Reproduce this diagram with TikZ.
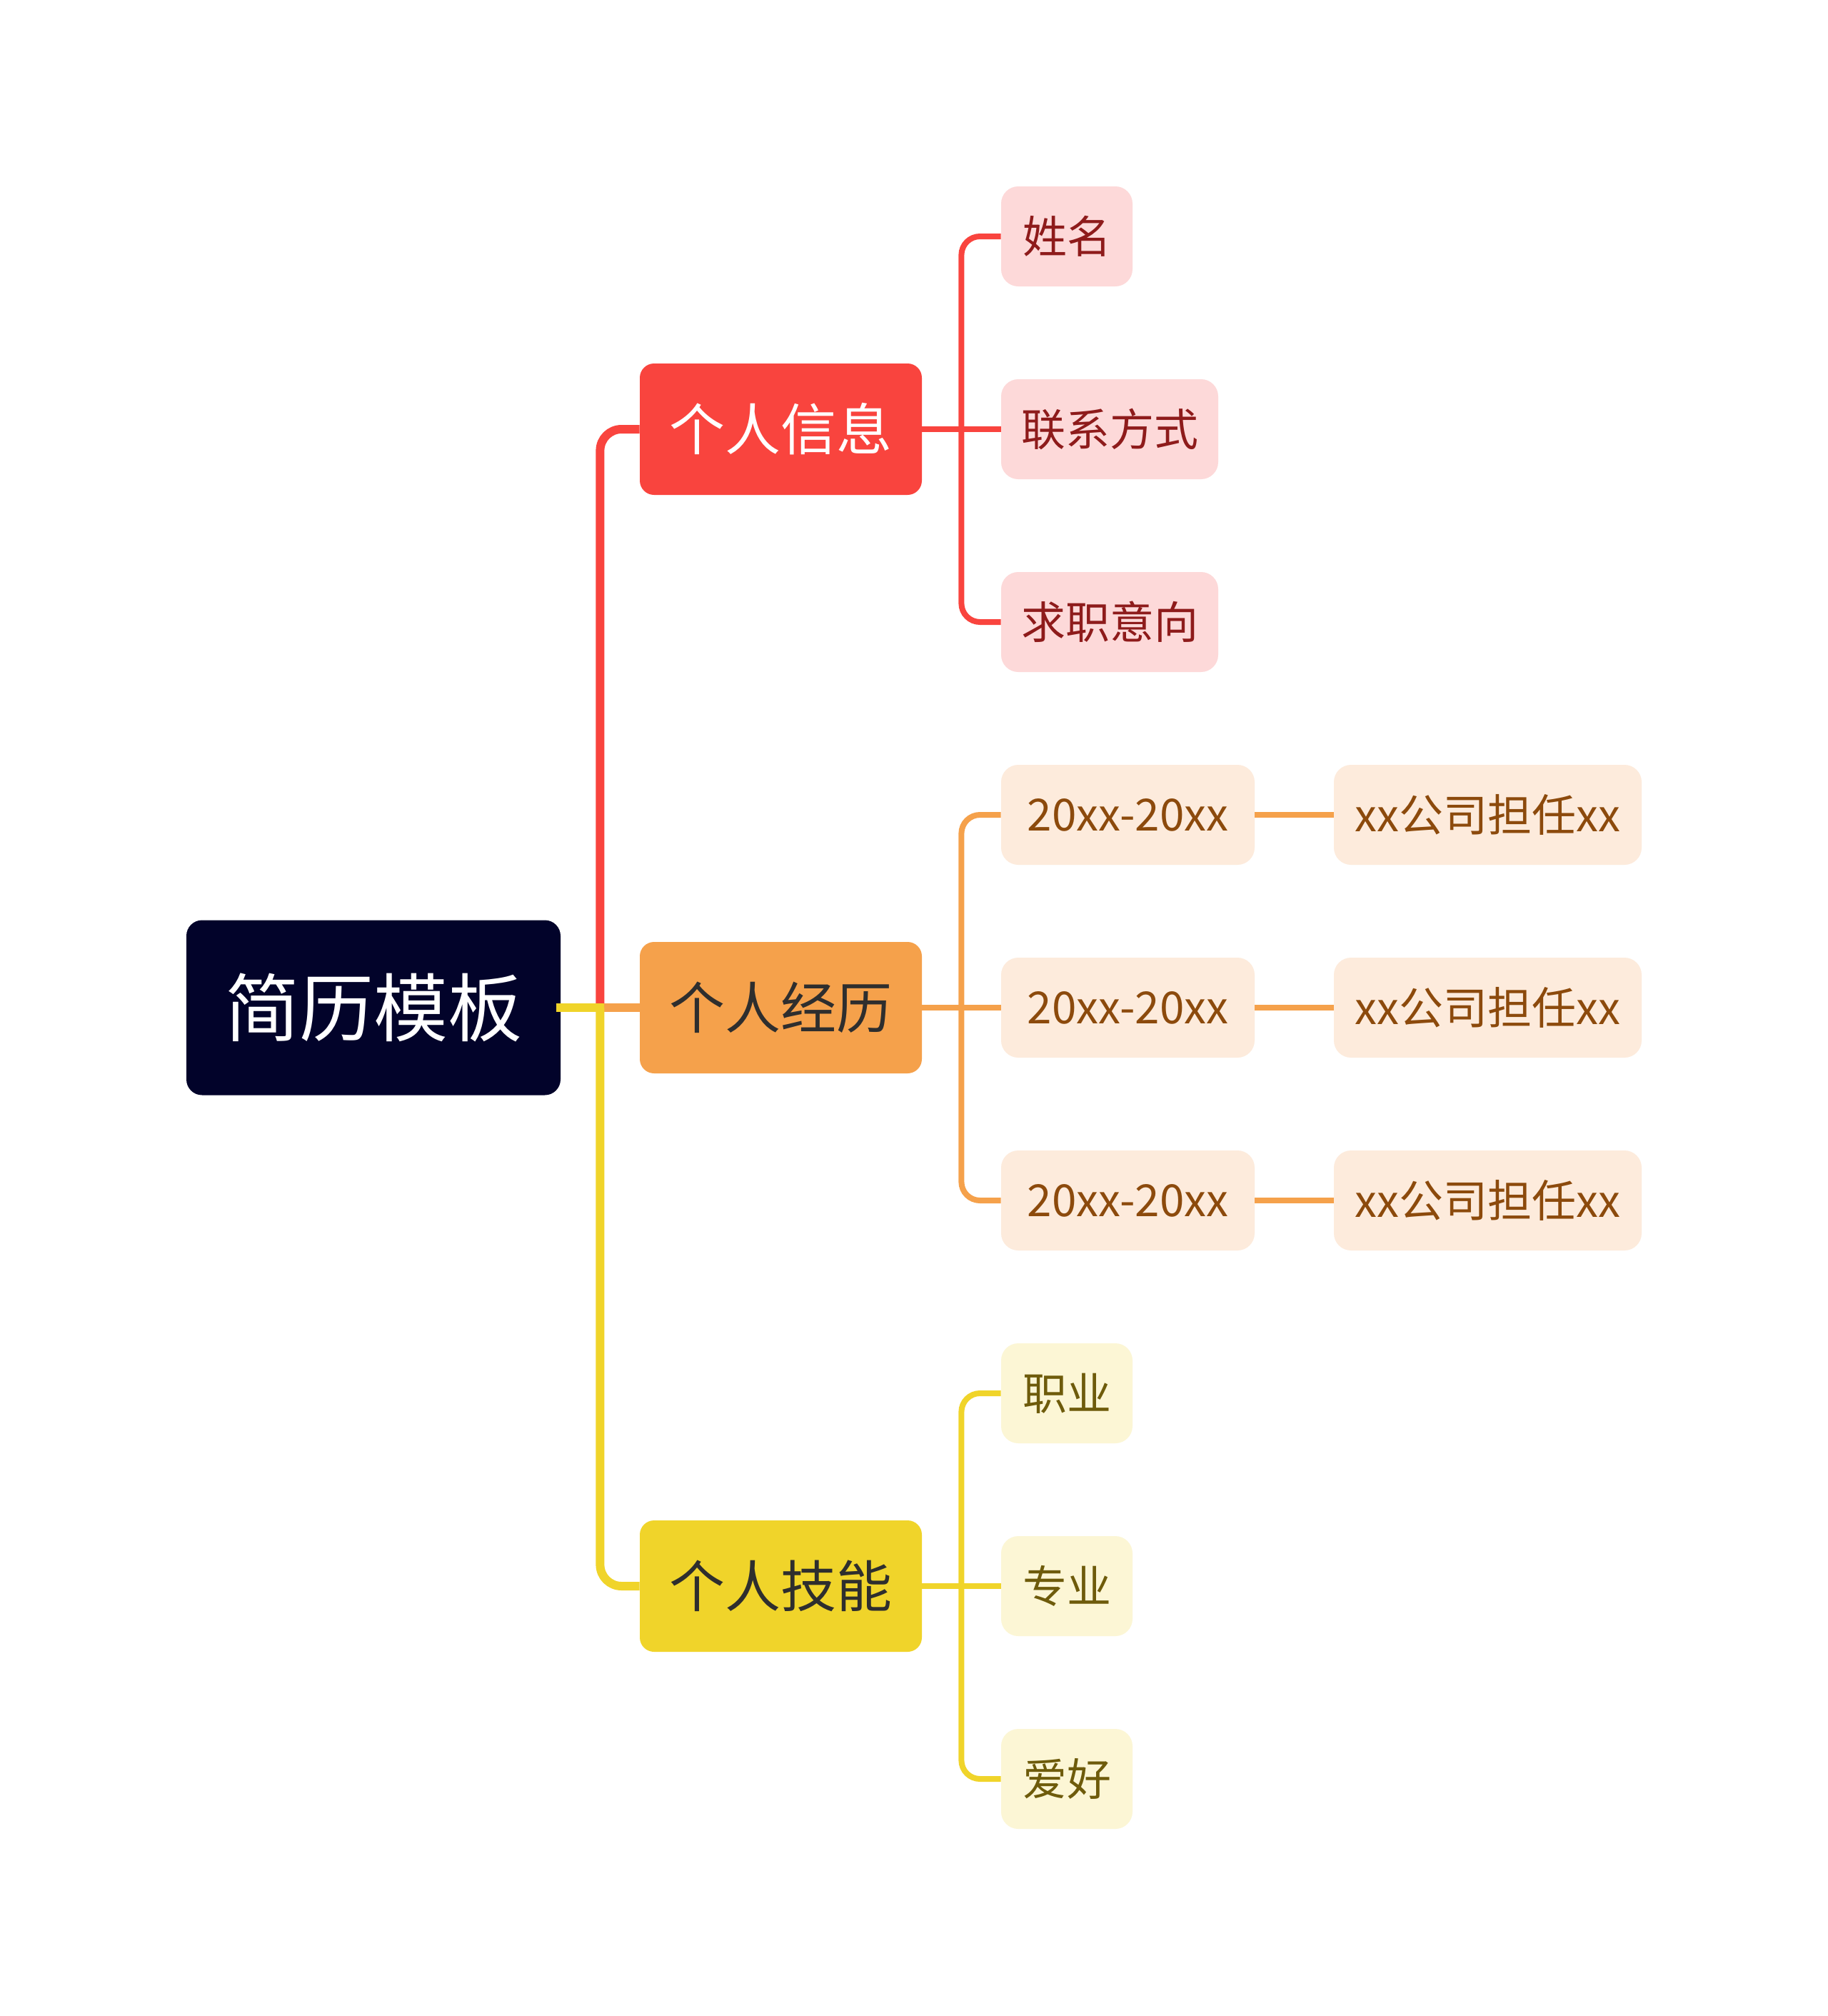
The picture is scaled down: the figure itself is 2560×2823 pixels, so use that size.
\documentclass[tikz,border=0pt]{standalone}
\usepackage{fontspec}
\setmainfont{Noto Sans CJK SC}
\definecolor{rootc}{HTML}{02032A}
\definecolor{redc}{HTML}{F9443E}
\definecolor{orgc}{HTML}{F5A14B}
\definecolor{yelc}{HTML}{F0D42A}
\definecolor{pinkf}{HTML}{FDD9D9}
\definecolor{pinkt}{HTML}{8E1B1B}
\definecolor{peachf}{HTML}{FDEBDC}
\definecolor{peacht}{HTML}{8C4A0C}
\definecolor{creamf}{HTML}{FCF6D5}
\definecolor{creamt}{HTML}{6E5B0B}
\definecolor{darkt}{HTML}{2E2E2E}
\begin{document}
\begin{tikzpicture}[x=0.5pt,y=-0.5pt,
  rootbox/.style={fill=rootc, rounded corners=11pt, minimum width=262pt, minimum height=122.5pt, text=white, font=\fontsize{52pt}{60pt}\selectfont, inner sep=0pt},
  lonebox/.style={rounded corners=10pt, minimum width=197.5pt, minimum height=92pt, font=\fontsize{39pt}{46pt}\selectfont, inner sep=0pt},
  ltwobox/.style={rounded corners=12pt, minimum height=70pt, font=\fontsize{31pt}{36pt}\selectfont, inner sep=0pt},
  redbox/.style={ltwobox, fill=pinkf, text=pinkt},
  orgbox/.style={ltwobox, fill=peachf, text=peacht},
  yelbox/.style={ltwobox, fill=creamf, text=creamt},
  mainline/.style={line width=6pt, rounded corners=15pt},
  subline/.style={line width=4pt, rounded corners=13pt},
]
\useasboundingbox (0,0) rectangle (2560,2823);
\fill[white] (0,0) rectangle (2560,2823);

% nodes
\node[rootbox] (root) at (523,1411) {简历模板};
\node[lonebox, fill=redc, text=white] (info) at (1093.5,601) {个人信息};
\node[lonebox, fill=orgc, text=darkt] (exp) at (1093.5,1411) {个人经历};
\node[lonebox, fill=yelc, text=darkt] (skill) at (1093.5,2221) {个人技能};

\node[redbox, minimum width=92pt] (name) at (1494,331) {姓名};
\node[redbox, minimum width=152pt] (contact) at (1554,601) {联系方式};
\node[redbox, minimum width=152pt] (intent) at (1554,871) {求职意向};

\node[orgbox, minimum width=177.5pt] (ya) at (1579.5,1141) {20xx-20xx};
\node[orgbox, minimum width=177.5pt] (yb) at (1579.5,1411) {20xx-20xx};
\node[orgbox, minimum width=177.5pt] (yc) at (1579.5,1681) {20xx-20xx};
\node[orgbox, minimum width=215.5pt] (ca) at (2083.5,1141) {xx公司担任xx};
\node[orgbox, minimum width=215.5pt] (cb) at (2083.5,1411) {xx公司担任xx};
\node[orgbox, minimum width=215.5pt] (cc) at (2083.5,1681) {xx公司担任xx};

\node[yelbox, minimum width=92pt] (job) at (1494,1951) {职业};
\node[yelbox, minimum width=92pt] (major) at (1494,2221) {专业};
\node[yelbox, minimum width=92pt] (hobby) at (1494,2491) {爱好};

% junction coordinates
\path (root.east) -- ++(55,0) coordinate (j0);
\path (info.east) -- ++(55,0) coordinate (j1);
\path (exp.east) -- ++(55,0) coordinate (j2);
\path (skill.east) -- ++(55,0) coordinate (j3);

% main branches
\draw[mainline, redc] (j0) |- (info.west);
\draw[mainline, orgc] (root.east) -- (exp.west);
\draw[mainline, yelc] (j0) |- (skill.west);
\draw[mainline, yelc, line cap=rect] (root.east) -- (j0);

% red sub-branches
\draw[subline, redc] (j1) |- (name.west);
\draw[subline, redc] (info.east) -- (contact.west);
\draw[subline, redc] (j1) |- (intent.west);

% orange sub-branches
\draw[subline, orgc] (j2) |- (ya.west);
\draw[subline, orgc] (exp.east) -- (yb.west);
\draw[subline, orgc] (j2) |- (yc.west);
\draw[subline, orgc] (ya.east) -- (ca.west);
\draw[subline, orgc] (yb.east) -- (cb.west);
\draw[subline, orgc] (yc.east) -- (cc.west);

% yellow sub-branches
\draw[subline, yelc] (j3) |- (job.west);
\draw[subline, yelc] (skill.east) -- (major.west);
\draw[subline, yelc] (j3) |- (hobby.west);
\end{tikzpicture}
\end{document}
